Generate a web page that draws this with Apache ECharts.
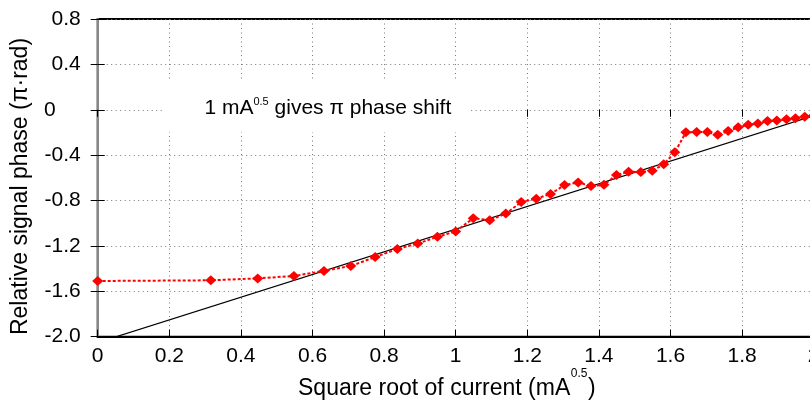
<!DOCTYPE html>
<html>
<head>
<meta charset="utf-8">
<script src="https://cdn.jsdelivr.net/npm/echarts@6/dist/echarts.min.js"></script>
<style>
  html, body { margin: 0; padding: 0; background: #fff; }
  #chart { width: 810px; height: 402px; }
</style>
</head>
<body>
<div id="chart"></div>
<script>
// Square root of drive current (mA^0.5) and measured relative phase (in units of pi rad)
const sqrtCurrent = [0, 0.316, 0.447, 0.548, 0.632, 0.707, 0.775, 0.837, 0.894, 0.949,
  1.0, 1.049, 1.095, 1.140, 1.183, 1.225, 1.265, 1.304, 1.342, 1.378,
  1.414, 1.449, 1.483, 1.517, 1.549, 1.581, 1.612, 1.643, 1.673, 1.703,
  1.732, 1.761, 1.789, 1.817, 1.844, 1.871, 1.897, 1.924, 1.949, 1.975, 2.0];
const phase = [-1.509, -1.503, -1.486, -1.465, -1.420, -1.377, -1.298, -1.227, -1.179, -1.119,
  -1.073, -0.955, -0.973, -0.915, -0.813, -0.784, -0.742, -0.664, -0.640, -0.672,
  -0.661, -0.575, -0.546, -0.549, -0.537, -0.481, -0.375, -0.199, -0.196, -0.196,
  -0.220, -0.188, -0.155, -0.132, -0.120, -0.100, -0.094, -0.083, -0.074, -0.062, -0.050];

// Reference line: one pi of phase per mA^0.5
const refLineX = [0.035, 2.0];
const refLineY = [-2.017, -0.052];

// Axis tick labels
const xTickLabels = ['0', '0.2', '0.4', '0.6', '0.8', '1', '1.2', '1.4', '1.6', '1.8', '2'];
const yTickLabels = ['-2.0', '-1.6', '-1.2', '-0.8', '-0.4', '0', '0.4', '0.8'];

const X_MIN = 0, X_MAX = 2, X_STEP = 0.2;
const Y_MIN = -2.0, Y_MAX = 0.8, Y_STEP = 0.4;

const FONT = '"Liberation Sans", Arial, Helvetica, sans-serif';

// x-axis title pieces: main text, superscript, closing bracket
const xTitleMain = 'Square root of current (mA';
const xTitleSup = '0.5';
const xTitleEnd = ')';
const TITLE_SIZE = 23;
const SUP_SIZE = 12;

// Measure a string so a superscript can follow it
function textWidth(str, size) {
  return echarts.format.getTextRect
    ? echarts.format.getTextRect(str, size + 'px ' + FONT).width
    : (() => {
        const ctx = document.createElement('canvas').getContext('2d');
        ctx.font = size + 'px ' + FONT;
        return ctx.measureText(str).width;
      })();
}

const chart = echarts.init(document.getElementById('chart'), null, { renderer: 'canvas' });

const dotted = { type: [1, 3.5], color: '#777', width: 1 };
const inTick = { show: true, inside: true, length: 7, lineStyle: { color: '#000', width: 1 } };

const xTitleLeft = 298;
const xMainW = textWidth(xTitleMain, TITLE_SIZE);
const xSupW = textWidth(xTitleSup, SUP_SIZE);

function plainText(x, y, str, size, extra) {
  return Object.assign({
    type: 'text', z: 6, x: x, y: y,
    style: {
      text: str, fontSize: size, fontFamily: FONT, fill: '#000',
      align: 'left', verticalAlign: 'middle',
      textAlign: 'left', textVerticalAlign: 'middle'
    }
  }, extra || {});
}

chart.setOption({
  animation: false,
  backgroundColor: '#fff',
  grid: {
    left: 97.7, top: 19, width: 716, height: 317.7,
    show: true, borderColor: '#000', borderWidth: 2,
    containLabel: false, outerBoundsMode: 'none'
  },
  xAxis: [{
    type: 'value', min: X_MIN, max: X_MAX, interval: X_STEP,
    axisLine: { show: true, onZero: false, lineStyle: { color: '#000', width: 2 } },
    axisTick: inTick,
    splitLine: { show: true, lineStyle: dotted },
    axisLabel: {
      show: true, margin: 9, color: '#000', fontSize: 21, fontFamily: FONT,
      showMinLabel: true, showMaxLabel: true,
      formatter: v => xTickLabels[Math.round((v - X_MIN) / X_STEP)]
    }
  }, {
    type: 'value', position: 'top', min: X_MIN, max: X_MAX, interval: X_STEP,
    axisLine: { show: false }, axisTick: inTick,
    axisLabel: { show: false }, splitLine: { show: false }
  }],
  yAxis: [{
    type: 'value', min: Y_MIN, max: Y_MAX, interval: Y_STEP,
    axisLine: { show: true, onZero: false, lineStyle: { color: '#888', width: 2 } },
    axisTick: inTick,
    splitLine: { show: true, lineStyle: dotted },
    axisLabel: {
      show: true, margin: 17, color: '#000', fontSize: 21, fontFamily: FONT,
      showMinLabel: true, showMaxLabel: true,
      formatter: v => {
        const s = yTickLabels[Math.round((v - Y_MIN) / Y_STEP)];
        return s === '0' ? '{z|0}' : s;
      },
      rich: { z: { fontSize: 21, fontFamily: FONT, color: '#000', padding: [0, 25, 0, 0] } }
    }
  }, {
    type: 'value', position: 'right', min: Y_MIN, max: Y_MAX, interval: Y_STEP,
    axisLine: { show: false }, axisTick: inTick,
    axisLabel: { show: false }, splitLine: { show: false }
  }],
  series: [{
    type: 'line',
    name: 'ref',
    data: refLineX.map((x, i) => [x, refLineY[i]]),
    showSymbol: false, symbol: 'none',
    lineStyle: { color: '#000', width: 1.2 },
    z: 3, silent: true
  }, {
    type: 'line',
    name: 'phase',
    data: sqrtCurrent.map((x, i) => [x, phase[i]]),
    symbol: 'diamond', symbolSize: [11, 10],
    itemStyle: { color: '#ff0000' },
    lineStyle: { color: '#ff0000', width: 2, type: [3, 2] },
    z: 4, silent: true
  }],
  graphic: [{
    type: 'rect', z: 5,
    shape: { x: 163, y: 82, width: 307, height: 50 },
    style: { fill: '#fff' }
  }, {
    type: 'text', z: 6, x: 204.4, y: 96.3,
    style: {
      text: '1 mA{sup|0.5} gives π phase shift',
      fontSize: 21, fontFamily: FONT, fill: '#000', lineHeight: 24,
      align: 'left', verticalAlign: 'top',
      textAlign: 'left', textVerticalAlign: 'top',
      rich: { sup: { fontSize: 11, fontFamily: FONT, fill: '#000', verticalAlign: 'top', lineHeight: 10 } }
    }
  },
  plainText(xTitleLeft, 389, xTitleMain, TITLE_SIZE),
  plainText(xTitleLeft + xMainW + 0.5, 373.5, xTitleSup, SUP_SIZE),
  plainText(xTitleLeft + xMainW + xSupW + 1, 389, xTitleEnd, TITLE_SIZE),
  {
    type: 'text', z: 6, x: 21, y: 186.5, rotation: Math.PI / 2,
    style: {
      text: 'Relative signal phase (π·rad)',
      fontSize: 23, fontFamily: FONT, fill: '#000',
      align: 'center', verticalAlign: 'middle',
      textAlign: 'center', textVerticalAlign: 'middle'
    }
  }]
});
</script>
</body>
</html>
